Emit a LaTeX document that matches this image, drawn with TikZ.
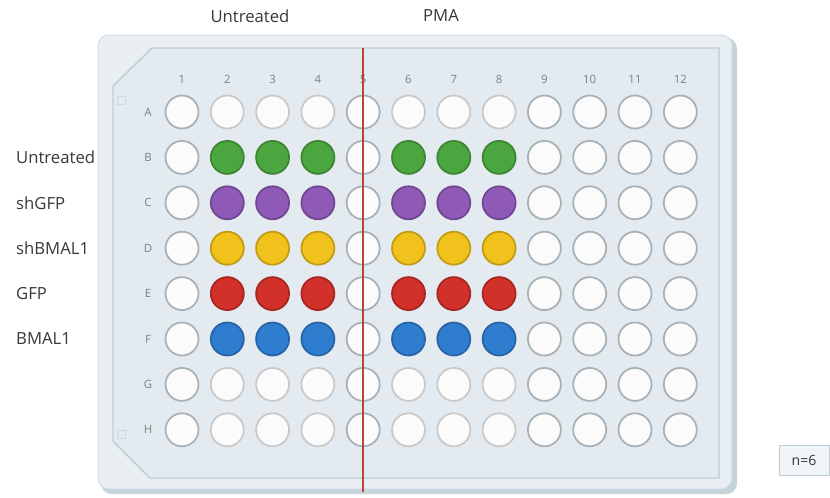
\documentclass[tikz,border=0pt]{standalone}
\usepackage{fontspec}
\setmainfont{Open Sans}
\usetikzlibrary{positioning, calc}

\definecolor{platebody}{HTML}{E8EEF2}
\definecolor{plateshade}{HTML}{C6D3DB}
\definecolor{plateedge}{HTML}{CCD7DE}
\definecolor{panelfill}{HTML}{E4EBF0}
\definecolor{paneledge}{HTML}{BFCCD4}
\definecolor{wellfill}{HTML}{FBFBFC}
\definecolor{wellrim}{HTML}{A8B1B6}
\definecolor{cgreen}{HTML}{4CA640}
\definecolor{cpurple}{HTML}{8F59B6}
\definecolor{cyellow}{HTML}{F1C21C}
\definecolor{cred}{HTML}{D2302A}
\definecolor{cblue}{HTML}{2F7DCF}
\definecolor{divred}{HTML}{B8443E}
\definecolor{labeltext}{HTML}{383838}
\definecolor{smalltext}{HTML}{7A7F82}

\begin{document}
\begin{tikzpicture}[
        x=0.02cm, y=-0.02cm,
        well/.style={circle, draw=wellrim, line width=1pt, minimum size=0.66cm, inner sep=0pt},
        grplbl/.style={font=\fontsize{9.5}{11}\selectfont, text=labeltext},
        rowname/.style={grplbl, anchor=west},
        idxlbl/.style={font=\fontsize{6.5}{8}\selectfont, text=smalltext, inner sep=1pt},
        nbox/.style={draw=paneledge, fill=panelfill!50, minimum width=1cm, minimum height=0.6cm, font=\fontsize{8}{10}\selectfont, text=labeltext}
    ]
        \useasboundingbox (0,0) rectangle (830,497);

        % plate
        \fill[plateshade, rounded corners=6pt] (101,38) rectangle (737,494);
        \draw[plateedge, fill=platebody, rounded corners=6pt] (98,35) rectangle (732,489);
        \draw[paneledge, fill=panelfill, line width=0.8pt] (152,48) -- (719,48) -- (719,478) -- (150,478) -- (113,441) -- (113,86) -- cycle;
        \draw[plateedge] (117,96) rectangle (125,104);
        \draw[plateedge] (117,430) rectangle (125,438);

        % wells
        \foreach \r/\rc [count=\i from 0] in {A/wellfill, B/cgreen, C/cpurple, D/cyellow, E/cred, F/cblue, G/wellfill, H/wellfill}{
            \node[idxlbl] (row-\r) at (148, 112+45.4*\i) {\r};
            \foreach \c in {1,...,12}{
                \pgfmathtruncatemacro{\used}{(\c>1)*(\c<9)*(\c!=5)}
                \ifnum\used=1 \def\wf{\rc}\def\wr{\rc!80!black}\else\def\wf{wellfill}\def\wr{wellrim}\fi
                \node[well, fill=\wf, draw=\wr] (w-\r\c) at (182+45.3*\c-45.3, 112+45.4*\i) {};
            }
        }
        \foreach \c in {1,...,12}
            \node[idxlbl] (col-\c) at (182+45.3*\c-45.3, 79) {\c};

        % split between treatments
        \coordinate (div-top) at (363,48);
        \coordinate (div-bot) at (363,492);
        \draw[divred, line width=0.7pt] (div-top) -- (div-bot);

        \node[grplbl] (untr) at (250,16) {Untreated};
        \node[grplbl] (pma) at (441,16) {PMA};

        \coordinate (lblx) at (10,0);
        \node[rowname] (lbl-B) at (row-B -| lblx) {Untreated};
        \node[rowname] (lbl-C) at (row-C -| lblx) {shGFP};
        \node[rowname] (lbl-D) at (row-D -| lblx) {shBMAL1};
        \node[rowname] (lbl-E) at (row-E -| lblx) {GFP};
        \node[rowname] (lbl-F) at (row-F -| lblx) {BMAL1};

        \node[nbox] (nsize) at (804,460) {n=6};
    \end{tikzpicture}
\end{document}
